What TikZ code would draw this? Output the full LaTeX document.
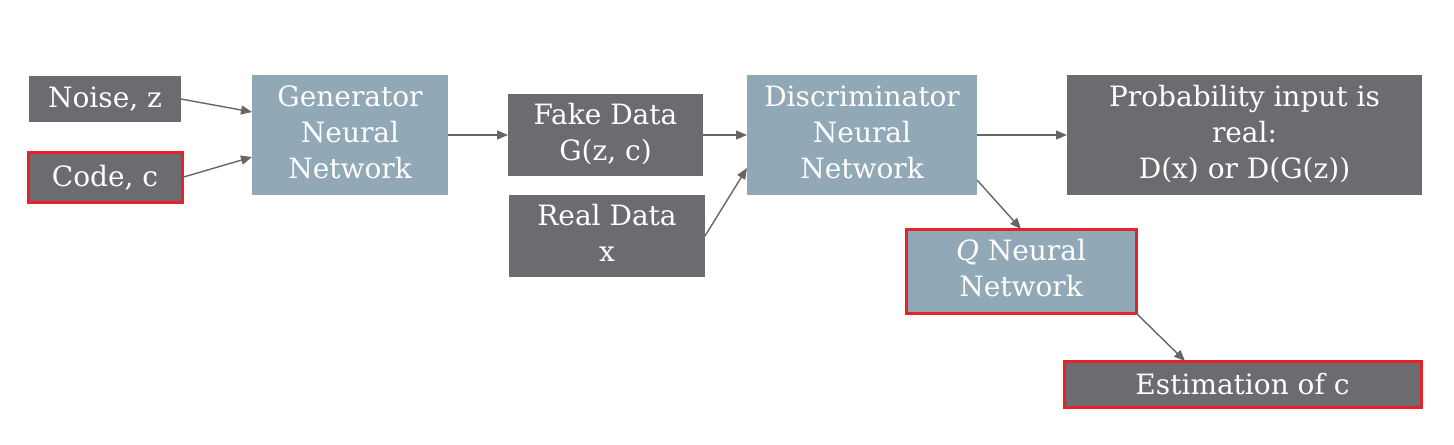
\documentclass[tikz,border=0pt]{standalone}
\usepackage{fontspec}
\setmainfont{DejaVu Serif}
\usetikzlibrary{arrows.meta, calc}
\definecolor{mydark}{RGB}{108, 107, 112}
\definecolor{myblue}{RGB}{145, 168, 182}
\definecolor{myred}{RGB}{232, 32, 42}
\definecolor{myarrow}{RGB}{102, 102, 102}
\tikzstyle{dark} = [draw=none, outer sep=0, inner sep=0,
    fill=mydark, text=white, align=center,
    font=\fontsize{14}{18}\selectfont]
\tikzstyle{net} = [draw=none, outer sep=0, inner sep=0,
    fill=myblue, text=white, align=center,
    font=\fontsize{14}{18}\selectfont]
\tikzstyle{marked} = [draw=myred, line width=1.5pt]
\tikzstyle{link} = [draw=myarrow, line width=0.7pt,
    -{Triangle[length=5.5pt, width=4.5pt]}]

\begin{document}
\begin{tikzpicture}[x=0.5pt, y=-0.5pt]

\useasboundingbox (0,0) rectangle (1454,444);

%%% inputs
\node[dark, minimum width=76pt, minimum height=23pt] (noise) at (105,99) {Noise, z};
\node[dark, marked, minimum width=77pt, minimum height=25pt] (code) at (105,177.5) {Code, c};

%%% generator
\node[net, minimum width=98pt, minimum height=60pt] (gen) at (350,135) {\begin{tabular}{c} Generator \\ Neural \\ Network \end{tabular}};

%%% data
\node[dark, minimum width=97.5pt, minimum height=41pt] (fake) at (605.5,135) {\begin{tabular}{c} Fake Data \\ G(z, c) \end{tabular}};
\node[dark, minimum width=98pt, minimum height=41pt] (real) at (607,236) {\begin{tabular}{c} Real Data \\ x \end{tabular}};

%%% discriminator
\node[net, minimum width=115pt, minimum height=60pt] (disc) at (862,135) {\begin{tabular}{c} Discriminator \\ Neural \\ Network \end{tabular}};

\node[dark, minimum width=177.5pt, minimum height=60pt] (prob) at (1244.5,135) {\begin{tabular}{c} Probability input is \\ real: \\ D(x) or D(G(z)) \end{tabular}};

%%% Q network
\node[net, marked, minimum width=115pt, minimum height=42pt] (qnet) at (1021,271) {\begin{tabular}{c} \textit{Q} Neural \\ Network \end{tabular}};
\node[dark, marked, minimum width=178.5pt, minimum height=23pt] (est) at (1242.5,384) {Estimation of c};

%%% arrows
\draw[link] (noise.east) -- ([yshift=11.5pt]gen.west);
\draw[link] (code.east) -- ([yshift=-11pt]gen.west);
\draw[link] (gen.east) -- (fake.west);
\draw[link] (fake.east) -- (disc.west |- fake.east);
\draw[link] (real.east) -- ([yshift=-16.5pt]disc.west);
\draw[link] (disc.east) -- (prob.west);
\draw[link] ([yshift=7.5pt]disc.south east) -- (qnet.north);
\draw[link] (qnet.south east) -- ([xshift=-28.75pt]est.north);

\end{tikzpicture}
\end{document}
